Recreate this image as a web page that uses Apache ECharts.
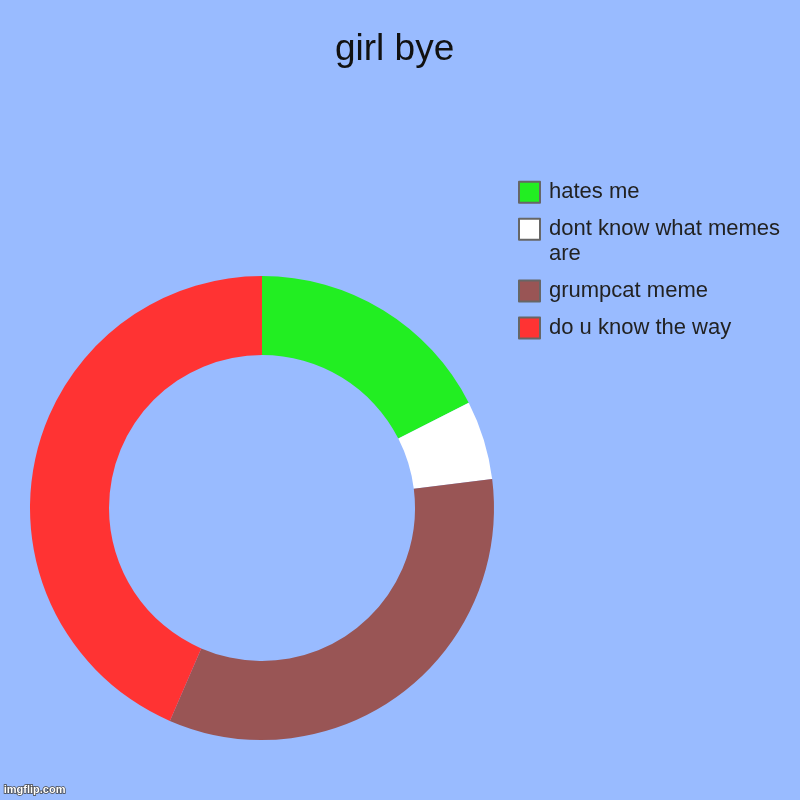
<!DOCTYPE html>
<html>
<head>
<meta charset="utf-8">
<script src="https://cdn.jsdelivr.net/npm/echarts@6/dist/echarts.min.js"></script>
<style>
html,body{margin:0;padding:0;background:#99BBFF;}
#chart{width:800px;height:800px;}
</style>
</head>
<body>
<div id="chart"></div>
<script>
const titleText = 'girl bye';
const categories = ['hates me', 'dont know what memes are', 'grumpcat meme', 'do u know the way'];
const values = [17.5, 5.5, 33.5, 43.5];
const colors = ['#22EE22', '#FFFFFF', '#995555', '#FF3333'];

const chart = echarts.init(document.getElementById('chart'), null, {renderer: 'canvas'});

const fontFam = 'Liberation Sans, Arial, sans-serif';
const legendFontSize = 22;
const legendTextWidth = 235;

// word-wrap a label to the available legend width
const measureCtx = document.createElement('canvas').getContext('2d');
measureCtx.font = legendFontSize + 'px ' + fontFam;
function wrapWords(text, maxW) {
  const words = text.split(' ');
  const lines = [];
  let cur = '';
  words.forEach(w => {
    const test = cur ? cur + ' ' + w : w;
    if (cur && measureCtx.measureText(test).width > maxW) {
      lines.push(cur);
      cur = w;
    } else {
      cur = test;
    }
  });
  if (cur) lines.push(cur);
  return lines;
}

const legendCenters = [192.3, 229.3, 291, 328];
const legends = categories.map((name, i) => {
  const lines = wrapWords(name, legendTextWidth);
  const n = lines.length;
  // pad with empty lines at the top so the icon stays level with the first line
  const padded = new Array(n - 1).fill('').concat(lines);
  const total = padded.length;
  return {
    orient: 'vertical',
    left: 518,
    top: legendCenters[i] - total * 25 / 2,
    padding: 0,
    icon: 'rect',
    itemWidth: 21,
    itemHeight: 21,
    itemStyle: {borderColor: '#666666', borderWidth: 2},
    selectedMode: false,
    formatter: () => padded.join('\n'),
    textStyle: {
      fontSize: legendFontSize,
      fontFamily: fontFam,
      color: '#222222',
      lineHeight: 25,
      padding: [0, 0, 0, 4]
    },
    data: [name]
  };
});

chart.setOption({
  backgroundColor: '#99BBFF',
  animation: false,
  title: {
    text: titleText,
    left: 330,
    top: 26,
    textStyle: {fontSize: 37, fontWeight: 'normal', fontFamily: fontFam, color: '#111111'}
  },
  legend: legends,
  graphic: [{
    type: 'text',
    left: 3,
    top: 784,
    style: {
      text: 'imgflip.com',
      fontSize: 11,
      fontWeight: 'bold',
      fontFamily: fontFam,
      fill: '#FFFFFF',
      stroke: '#444444',
      lineWidth: 1.5
    }
  }],
  series: [{
    type: 'pie',
    center: [262, 508],
    radius: [153, 232],
    startAngle: 90,
    clockwise: true,
    label: {show: false},
    labelLine: {show: false},
    emphasis: {disabled: true},
    itemStyle: {borderWidth: 0},
    data: categories.map((name, i) => ({
      name: name,
      value: values[i],
      itemStyle: {color: colors[i]}
    }))
  }]
});
</script>
</body>
</html>
